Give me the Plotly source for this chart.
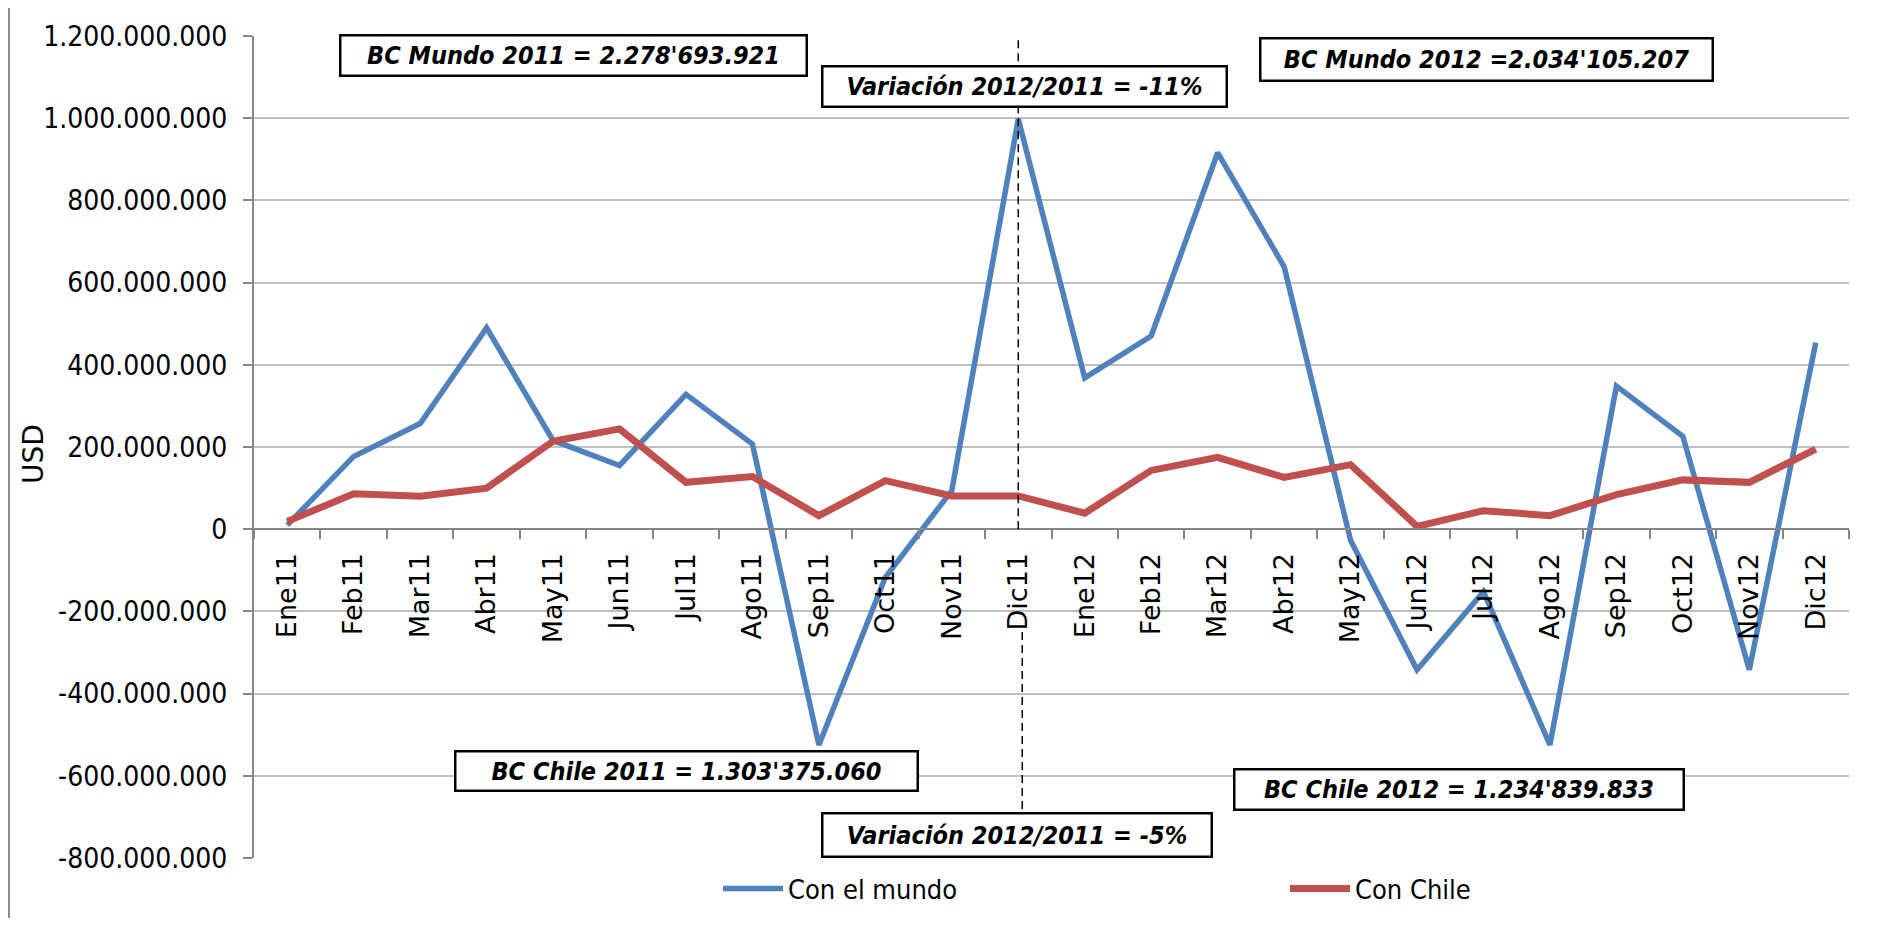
import plotly.graph_objects as go

# ---------------- data ----------------
months = ["Ene11", "Feb11", "Mar11", "Abr11", "May11", "Jun11", "Jul11", "Ago11",
          "Sep11", "Oct11", "Nov11", "Dic11", "Ene12", "Feb12", "Mar12", "Abr12",
          "May12", "Jun12", "Jul12", "Ago12", "Sep12", "Oct12", "Nov12", "Dic12"]

con_el_mundo = [10e6, 177e6, 257e6, 490e6, 216e6, 155e6, 328e6, 207e6,
                -525e6, -117e6, 94e6, 998e6, 368e6, 470e6, 916e6, 639e6,
                -27e6, -342e6, -152e6, -525e6, 348e6, 226e6, -342e6, 454e6]

con_chile = [19e6, 86e6, 80e6, 100e6, 214e6, 244e6, 114e6, 128e6,
             33e6, 118e6, 81e6, 81e6, 39e6, 143e6, 175e6, 126e6,
             157e6, 7e6, 45e6, 33e6, 84e6, 120e6, 114e6, 195e6]

y_tickvals = [1.2e9, 1.0e9, 0.8e9, 0.6e9, 0.4e9, 0.2e9, 0, -0.2e9, -0.4e9, -0.6e9, -0.8e9]
y_ticktext = ["1.200.000.000", "1.000.000.000", "800.000.000", "600.000.000",
              "400.000.000", "200.000.000", "0", "-200.000.000", "-400.000.000",
              "-600.000.000", "-800.000.000"]

series_names = ["Con el mundo", "Con Chile"]
y_title = "USD"

annotation_texts = [
    "BC Mundo 2011 = 2.278'693.921",
    "Variación 2012/2011 = -11%",
    "BC Mundo 2012 =2.034'105.207",
    "BC Chile 2011 = 1.303'375.060",
    "BC Chile 2012 = 1.234'839.833",
    "Variación 2012/2011 = -5%",
]

# ---------------- layout geometry (page pixels; body has an 8px margin) ----------------
OFF = 8
W, H = 1897 - OFF, 926 - 2 * OFF
PLOT_L, PLOT_R, PLOT_T, PLOT_B = 254, 1849, 36, 858   # plot area in page pixels
L, T = PLOT_L - OFF, PLOT_T - OFF
R, B = W - (PLOT_R - OFF), H - (PLOT_B - OFF)
PW, PH = PLOT_R - PLOT_L, PLOT_B - PLOT_T


def px_x(px):
    return (px - PLOT_L) / PW


def px_y(py):
    return (PLOT_B - py) / PH


# annotation boxes: centre x, centre y, width, height (page pixels)
boxes = [
    (573, 55, 469, 43),
    (1024, 86, 407, 43),
    (1486, 59, 455, 45),
    (686, 771, 465, 42),
    (1459, 789, 452, 43),
    (1017, 835, 392, 46),
]

FONT_N = "DejaVu Sans Condensed, Liberation Sans Narrow, sans-serif"
BLUE = "#4F81BD"
RED = "#C0504D"

fig = go.Figure()
fig.add_trace(go.Scatter(x=months, y=con_el_mundo, mode="lines", name=series_names[0],
                         line=dict(color=BLUE, width=5.5)))
fig.add_trace(go.Scatter(x=months, y=con_chile, mode="lines", name=series_names[1],
                         line=dict(color=RED, width=7)))

ymin, ymax = -0.8e9, 1.2e9
zero_pos = (0 - ymin) / (ymax - ymin)

fig.update_layout(
    width=W, height=H,
    margin=dict(l=L, r=R, t=T, b=B, pad=0, autoexpand=False),
    paper_bgcolor="white", plot_bgcolor="white",
    showlegend=True,
    legend=dict(orientation="h", x=px_x(718), xanchor="left", y=px_y(889), yanchor="middle",
                font=dict(family=FONT_N, size=27, color="black"),
                entrywidth=492, entrywidthmode="pixels", bgcolor="rgba(0,0,0,0)",
                itemwidth=60),
    xaxis=dict(type="category", anchor="free", position=zero_pos, automargin=False,
               showgrid=False, showline=True, linecolor="#868686", linewidth=2,
               ticks="outside", tickson="boundaries", ticklen=9, tickcolor="#868686",
               tickwidth=2, tickangle=-90, ticklabelstandoff=12,
               tickfont=dict(family="DejaVu Sans", size=27, color="black"),
               range=[-0.5, len(months) - 0.5], zeroline=False),
    yaxis=dict(range=[ymin, ymax], tickvals=y_tickvals, ticktext=y_ticktext,
               automargin=False,
               showgrid=True, gridcolor="#C0C0C0", gridwidth=2,
               showline=True, linecolor="#868686", linewidth=2,
               ticks="outside", ticklen=9, tickcolor="#868686", tickwidth=2,
               ticklabelstandoff=10,
               tickfont=dict(family=FONT_N, size=28, color="black"),
               zeroline=False),
)

# y-axis title
fig.add_annotation(xref="paper", yref="paper", x=px_x(34), y=px_y(454),
                   xanchor="center", yanchor="middle", showarrow=False, textangle=-90,
                   text=y_title, font=dict(family="DejaVu Sans", size=28, color="black"))

# dashed divider at Dic11 (split around the tick label)
dic_idx = months.index("Dic11")
fig.add_shape(type="line", xref="x", yref="y", x0=dic_idx, x1=dic_idx, y0=0, y1=1.215e9,
              line=dict(color="black", width=1.5, dash="8px,5px"), layer="above")
fig.add_shape(type="line", xref="x", yref="y", x0=dic_idx + 0.06, x1=dic_idx + 0.06,
              y0=-0.25e9, y1=-0.69e9,
              line=dict(color="black", width=1.5, dash="8px,5px"), layer="above")

# left border of the chart area
fig.add_shape(type="line", xref="paper", yref="paper", x0=px_x(OFF + 1), x1=px_x(OFF + 1),
              y0=px_y(926), y1=px_y(0), line=dict(color="#8C8C8C", width=2))

for txt, (cx, cy, bw, bh) in zip(annotation_texts, boxes):
    fig.add_annotation(xref="paper", yref="paper", x=px_x(cx), y=px_y(cy),
                       xanchor="center", yanchor="middle", showarrow=False,
                       text="<b><i>" + txt + "</i></b>",
                       font=dict(family=FONT_N, size=25, color="black"),
                       bgcolor="white", bordercolor="black", borderwidth=2.5,
                       borderpad=0, width=bw - 5, height=bh - 5, align="center")

fig.write_html("out.html")
